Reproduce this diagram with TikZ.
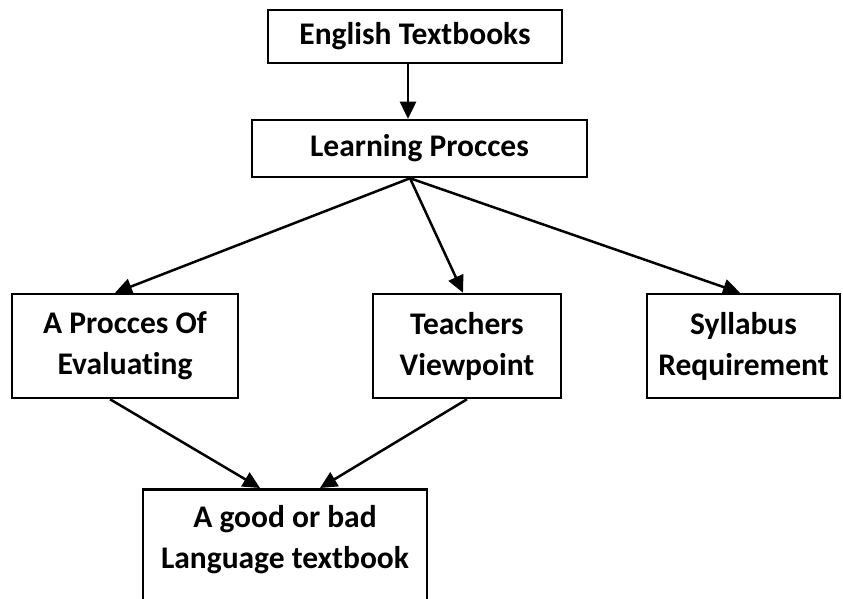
\documentclass[tikz,border=0pt]{standalone}
\usepackage{fontspec}
\setmainfont{Carlito}[Ligatures=NoCommon]
\usetikzlibrary{arrows.meta}
\tikzset{
  box/.style={draw=black, line width=2.5pt, rectangle, align=center, inner sep=0pt,
    font=\fontsize{31.5}{41}\selectfont\bfseries},
  conn/.style={line width=2.5pt, -{Triangle[length=17pt,width=16pt]}}
}
\begin{document}
\begin{tikzpicture}[x=1pt,y=-1pt]
\useasboundingbox (0,0) rectangle (843,599);
\begin{scope}
\clip (0,0) rectangle (843,599);
\node[box, minimum width=294pt, minimum height=53pt] (et) at (415,36.5) {English Textbooks};
\node[box, minimum width=335pt, minimum height=57pt] (lp) at (419.5,148.5) {Learning Procces};
\node[box, minimum width=226pt, minimum height=104pt] (pe) at (125,346) {A Procces Of\\Evaluating};
\node[box, minimum width=188pt, minimum height=104pt] (tv) at (467,346) {Teachers\\Viewpoint};
\node[box, minimum width=193pt, minimum height=104pt] (sr) at (743.5,346) {Syllabus\\Requirement};
\node[box, minimum width=284pt, inner ysep=16pt, anchor=north] (gb) at (285,488) {A good or bad\\Language textbook\\\strut};
\draw[conn] ([xshift=-7pt]et.south) -- ([xshift=-11.5pt]lp.north);
\draw[conn] ([xshift=-9.5pt]lp.south) -- ([xshift=-10pt]pe.north);
\draw[conn] ([xshift=-9.5pt]lp.south) -- ([xshift=-4pt]tv.north);
\draw[conn] ([xshift=-9.5pt]lp.south) -- ([xshift=-3.5pt]sr.north);
\draw[conn] ([xshift=-15pt]pe.south) -- ([xshift=-25pt]gb.north);
\draw[conn] (tv.south) -- ([xshift=35pt]gb.north);
\end{scope}
\end{tikzpicture}
\end{document}
